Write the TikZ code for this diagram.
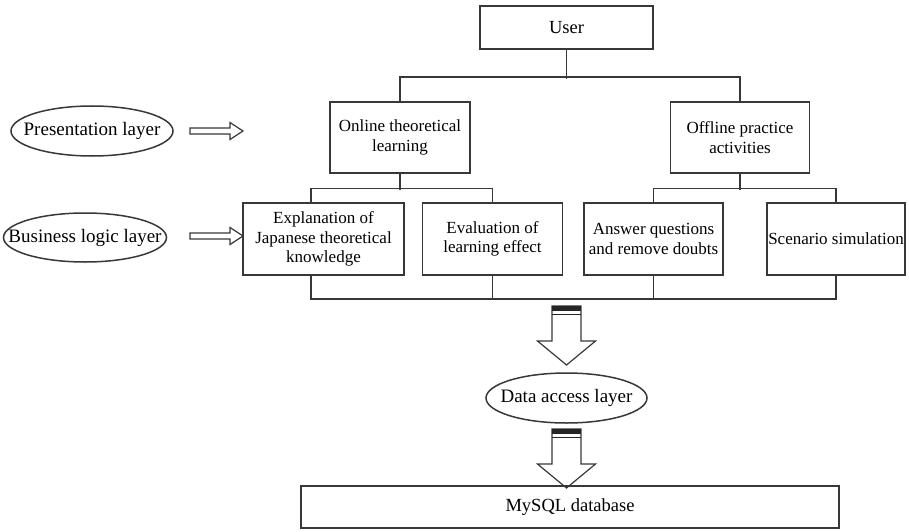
\documentclass[tikz,border=0pt]{standalone}
\usepackage{fontspec}
\setmainfont{Liberation Serif}
\tikzset{
  box/.style={shape=rectangle,draw=black!78,line width=1.5pt,inner sep=0pt,align=center,font=\fontsize{17}{19.5}\selectfont},
  layer/.style={inner sep=0pt,font=\fontsize{19}{22}\selectfont},
  wire/.style={draw=black!78,line width=1.5pt},
  sidearrow/.pic={\draw[draw=black!78,line width=1.2pt] (0,-3) -- (40,-3) -- (40,-8.5) -- (53,0) -- (40,8.5) -- (40,3) -- (0,3) -- cycle;},
  downarrow/.pic={
    \draw[draw=black!78,line width=1.2pt] (-14.5,0) -- (-14.5,35) -- (-29,35) -- (0,59) -- (29,35) -- (14.5,35) -- (14.5,0) -- cycle;
    \fill[black!85] (-14.5,0) rectangle (14.5,4.5);
    \draw[black!85,line width=1.6pt] (-14.5,8.5) -- (14.5,8.5);}
}
\begin{document}
\begin{tikzpicture}[x=1pt,y=-1pt]
\useasboundingbox (0,0) rectangle (909,532);

\node(user) at (566.5,27.5)[box,minimum width=173,minimum height=43,font=\fontsize{18.5}{21}\selectfont] {User};
\node(online) at (400,137.5)[box,minimum width=140,minimum height=71] {Online theoretical\\learning};
\node(offline) at (740,137.5)[box,minimum width=139,minimum height=71] {Offline practice\\activities};
\node(expl) at (323.5,239)[box,minimum width=161,minimum height=72] {Explanation of\\Japanese theoretical\\knowledge};
\node(eval) at (492.5,239)[box,minimum width=140,minimum height=72] {Evaluation of\\learning effect};
\node(answer) at (653.5,239)[box,minimum width=139,minimum height=72] {Answer questions\\and remove doubts};
\node(scen) at (836,239)[box,minimum width=138,minimum height=72] {Scenario simulation};
\node(mysql) at (570,507)[box,minimum width=538,minimum height=42,font=\fontsize{18.5}{21}\selectfont] {MySQL database};

\node(pres) at (92,131)[layer] {Presentation layer};
\node(bus) at (85,237.5)[layer] {Business logic layer};
\node(data) at (566.5,398)[layer] {Data access layer};
\draw[wire] (pres.center) ellipse [x radius=81,y radius=25];
\draw[wire] (bus.center) ellipse [x radius=81.5,y radius=24.5];
\draw[wire] (data.center) ellipse [x radius=80.5,y radius=25];

% tree
\draw[wire] (user.south) -- ++(0,29);
\draw[wire] (online.north) -- ++(0,-24) -| (offline.north);
\draw[wire] (online.south) -- ++(0,16);
\draw[wire] (offline.south) -- ++(0,16);
\draw[wire] ([xshift=-12.5pt]expl.north) -- ++(0,-14) -| (eval.north);
\draw[wire] (answer.north) -- ++(0,-14) -| (scen.north);
\draw[wire] ([xshift=-12.5pt]expl.south) -- ++(0,23) -| (scen.south);
\draw[wire] (eval.south) -- ++(0,23);
\draw[wire] (answer.south) -- ++(0,23);

% arrows
\pic at (190,131) {sidearrow};
\pic at (190,236) {sidearrow};
\pic at (566.5,306) {downarrow};
\pic at (566.5,429) {downarrow};
\end{tikzpicture}
\end{document}
